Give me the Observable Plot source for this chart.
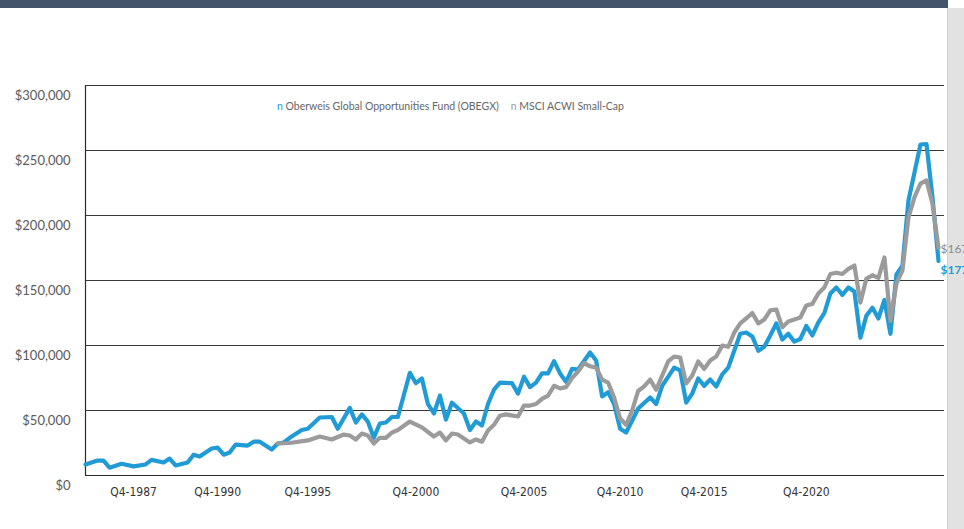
<!DOCTYPE html>
<html>
<head>
<meta charset="utf-8">
<script src="https://cdn.jsdelivr.net/npm/d3@7"></script>
<script src="https://cdn.jsdelivr.net/npm/@observablehq/plot@0.6"></script>
<style>
  html, body { margin: 0; padding: 0; overflow: hidden; background: #fff; width: 964px; height: 529px; }
  #topbar { position: absolute; left: 0; top: 0; width: 948px; height: 8px; background: #44546a; z-index: 3; }
  #scroll { position: absolute; left: 947px; top: 8px; width: 17px; height: 521px; background: #e2e2e2; border-left: 1px solid #cdcdcd; z-index: 0; }
  #chart { position: absolute; left: 0; top: 0; width: 1010px; height: 529px; z-index: 1; }
  #chart svg { max-width: none !important; }
  #legend { position: absolute; left: 277px; top: 100px; z-index: 2; font: 10.5px Lato, "Open Sans", sans-serif; color: #666; white-space: nowrap; }
  #legend .item { display: inline-block; margin-right: 12px; }
</style>
</head>
<body>
<div id="topbar"></div>
<div id="scroll"></div>
<div id="chart"></div>
<div id="legend"></div>
<script>
// Series names
const seriesNames = ["Oberweis Global Opportunities Fund (OBEGX)", "MSCI ACWI Small-Cap"];
const seriesColors = ["#219bd6", "#9b9b9b"];

// Quarter index (position in the quarterly category axis) and growth of investment ($)
const fundQuarter = [0,2,3,4,6,8,10,11,13,14,15,17,18,19,21,22,23,24,25,27,28,29,31,32,33,34,36,37,39,41,42,44,45,46,47,48,49,50,51,52,54,55,56,57,58,59,60,61,63,64,65,66,67,68,69,71,72,73,74,75,76,77,78,79,80,81,82,84,85,86,87,88,89,90,92,94,95,96,98,99,100,101,102,103,104,105,106,107,109,110,111,112,113,114,115,116,117,118,119,120,121,122,123,124,125,126,127,128,129,130,131,132,133,134,135,136,137,138,139,140,141,142];
const fundValue = [8500,11500,11500,6000,9000,7000,8500,12000,10000,13000,7700,10000,16000,14600,20800,21500,16000,17700,23800,23000,26000,26000,20000,24600,25400,29000,35000,36000,44600,45000,36000,52000,40800,47000,41500,29000,40000,40800,45000,45000,79000,71000,74600,55000,47700,61500,43000,56000,47700,35000,41500,38500,55000,66000,71500,71000,63000,76000,68000,71500,78500,78500,88000,78500,72000,82000,81500,94600,88500,60800,64000,55000,36000,33000,51500,60000,55000,69000,83000,80800,56000,63000,74600,69000,73800,68500,77700,83000,109000,110000,107000,96000,99000,107700,117000,104600,109000,103000,105000,115000,107700,117700,125000,140000,144600,139000,144600,141500,106000,123000,129000,120800,135000,109000,154600,161500,211500,233000,254600,255000,214000,165000];

const msciQuarter = [32,34,37,39,41,43,44,45,46,47,48,49,50,51,52,54,56,58,59,60,61,62,64,65,66,67,68,69,70,72,73,74,75,76,77,78,79,80,81,82,83,84,85,86,87,88,89,90,91,92,93,94,95,97,98,99,100,101,102,103,104,105,106,107,108,109,110,111,112,113,114,115,116,117,118,119,120,121,122,123,124,125,126,127,128,129,130,131,132,133,134,135,136,137,138,139,140,141,142];
const msciValue = [24600,25000,27000,30000,27700,31500,30800,27700,32300,30800,24600,29000,29000,33000,35000,41500,37000,30000,33000,27000,32300,31500,25400,27700,26000,34600,39000,46000,47000,45400,53800,53800,55000,59000,61500,69000,67000,68000,75000,80000,86500,84000,83000,73800,71500,60000,43800,39000,50000,65000,68500,73800,66000,87700,91500,90800,70800,76900,87700,82000,88500,91500,100000,99000,110000,117000,120800,125000,117000,120000,127000,127700,114000,118500,120000,121500,130800,132000,140000,144600,155000,156000,155000,159000,161500,133000,151500,154000,152000,167700,119000,147700,157700,198500,214000,224600,227000,209000,175000];

// Axis ticks
const yTicks = [0, 50000, 100000, 150000, 200000, 250000, 300000];
const xTickQuarter = [8, 22, 37, 55, 73, 89, 103, 120];
const xTickLabels = ["Q4-1987", "Q4-1990", "Q4-1995", "Q4-2000", "Q4-2005", "Q4-2010", "Q4-2015", "Q4-2020"];

// End-of-line value labels (as visible)
const endLabels = ["$167", "$177"];

const fund = fundQuarter.map((q, i) => ({q, v: fundValue[i]}));
const msci = msciQuarter.map((q, i) => ({q, v: msciValue[i]}));
const xLabelMap = new Map(xTickQuarter.map((q, i) => [q, xTickLabels[i]]));

const ends = [
  {q: msciQuarter[msciQuarter.length - 1], v: msciValue[msciValue.length - 1], t: endLabels[0], c: "#8c8c8c"},
  {q: fundQuarter[fundQuarter.length - 1], v: fundValue[fundValue.length - 1], t: endLabels[1], c: seriesColors[0]}
];

const chart = Plot.plot({
  width: 1010,
  height: 529,
  marginTop: 85,
  marginBottom: 54,
  marginLeft: 85,
  marginRight: 66,
  style: {background: "transparent", overflow: "visible", maxWidth: "none", fontFamily: "Lato, 'Open Sans', sans-serif"},
  x: {domain: [0, 143], axis: null},
  y: {domain: [0, 300000], axis: null},
  marks: [
    Plot.ruleY(yTicks.filter(d => d > 0), {stroke: "#3a3a3a", strokeWidth: 1}),
    Plot.ruleY([0], {stroke: "#2a2a2a", strokeWidth: 1.2}),
    Plot.ruleX([0], {stroke: "#2a2a2a", strokeWidth: 1.2}),
    Plot.axisY({
      ticks: yTicks,
      tickFormat: d => "$" + d3.format(",")(d),
      tickSize: 0,
      tickPadding: 15,
      dy: 10,
      label: null,
      fontSize: 13,
      fill: "#5a5a5a",
      fontFamily: "Lato, 'Open Sans', sans-serif"
    }),
    Plot.axisX({
      ticks: xTickQuarter,
      tickFormat: d => xLabelMap.get(d),
      tickSize: 0,
      tickPadding: 12,
      label: null,
      fontSize: 12,
      fill: "#333",
      fontFamily: "'Liberation Sans Narrow', 'DejaVu Sans Condensed', sans-serif"
    }),
    Plot.line(fund, {x: "q", y: "v", stroke: seriesColors[0], strokeWidth: 4.2}),
    Plot.line(msci, {x: "q", y: "v", stroke: seriesColors[1], strokeWidth: 4.2}),
    Plot.text(ends.slice(0, 1), {x: "q", y: "v", text: "t", fill: "c", textAnchor: "start", dx: 2, dy: 1, fontSize: 12, fontFamily: "Lato, sans-serif"}),
    Plot.text(ends.slice(1), {x: "q", y: "v", text: "t", fill: "c", textAnchor: "start", dx: 2, dy: 9, fontSize: 12, fontWeight: "bold", fontFamily: "Lato, sans-serif"})
  ]
});
document.getElementById("chart").appendChild(chart);

const legend = document.getElementById("legend");
seriesNames.forEach((name, i) => {
  const item = document.createElement("span");
  item.className = "item";
  item.innerHTML = `<span style="color:${seriesColors[i]}">n</span> ${name}`;
  legend.appendChild(item);
});
</script>
</body>
</html>
